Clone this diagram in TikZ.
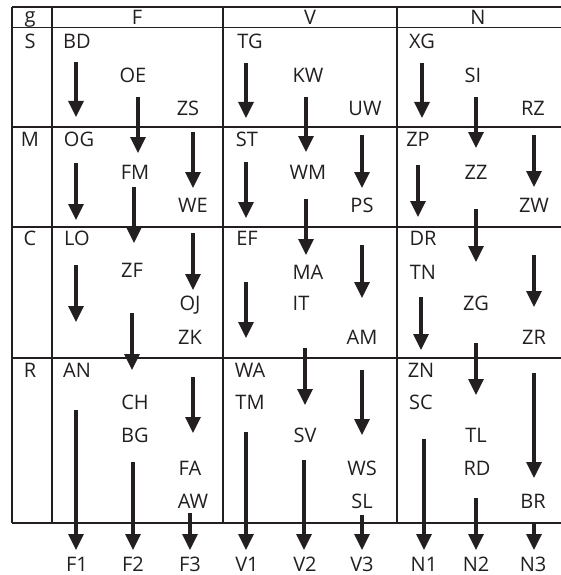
\documentclass[tikz,border=0pt]{standalone}
\usepackage{fontspec}
\setmainfont{Open Sans}
\usetikzlibrary{arrows.meta}
\definecolor{ink}{HTML}{231F20}
\newcommand\arrw[4]{\coordinate (#1s) at (#2,#3); \coordinate (#1e) at (#2,#4); \draw[arr] (#1s) -- (#1e);}
\newcommand\lab[4]{\node[lbl] (#1) at (#2,#3) {#4};}
\begin{document}
\begin{tikzpicture}[x=1pt,y=-1pt,
  lbl/.style={inner sep=0pt,text height=14.3pt,text depth=0pt,anchor=center,text=ink,font=\fontsize{20}{22}\selectfont},
  arr/.style={draw=ink,line width=3.3pt,-{Triangle[width=15pt,length=16pt]}},
  grid/.style={draw=ink,line width=1.2pt}]
\useasboundingbox (0,0) rectangle (561,575);
% grid
\foreach \x in {12,52,223,397} \draw[grid] (\x,7) -- (\x,523);
\foreach \y in {7,27.3,127,227,358,523} \draw[grid] (12,\y) -- (561,\y);
% header
\node[inner sep=0pt,anchor=base,text=ink,font=\fontsize{20}{22}\selectfont] (g) at (30,22.3) {g};
\lab{hF}{137}{17.5}{F}
\lab{hV}{310}{17.5}{V}
\lab{hN}{478}{17.5}{N}
\lab{rS}{30}{41.5}{S}
\lab{rM}{30}{139}{M}
\lab{rC}{30}{238}{C}
\lab{rR}{30}{370}{R}
% F column
\lab{BD}{77}{41.5}{BD}
\lab{OE}{133}{75}{OE}
\lab{ZS}{188}{108}{ZS}
\lab{OG}{79}{139}{OG}
\lab{FM}{135}{172}{FM}
\lab{WE}{193}{205}{WE}
\lab{LO}{77}{238}{LO}
\lab{ZF}{132}{270}{ZF}
\lab{OJ}{190}{303}{OJ}
\lab{ZK}{190}{337}{ZK}
\lab{AN}{77}{370}{AN}
\lab{CH}{135}{402}{CH}
\lab{BG}{135}{435}{BG}
\lab{FA}{190}{468}{FA}
\lab{AW}{193}{501}{AW}
\lab{F1}{77}{564.5}{F1}
\lab{F2}{133}{564.5}{F2}
\lab{F3}{190}{564.5}{F3}
% V column
\lab{TG}{250}{41.5}{TG}
\lab{KW}{308}{75}{KW}
\lab{UW}{365}{108}{UW}
\lab{ST}{247}{139}{ST}
\lab{WM}{308}{172}{WM}
\lab{PS}{362}{205}{PS}
\lab{EF}{247}{238}{EF}
\lab{MA}{308}{272}{MA}
\lab{IT}{301}{303}{IT}
\lab{AM}{362}{337}{AM}
\lab{WA}{250}{370}{WA}
\lab{TM}{250}{402}{TM}
\lab{SV}{305}{435}{SV}
\lab{WS}{362}{468}{WS}
\lab{SL}{362}{501}{SL}
\lab{V1}{247}{564.5}{V1}
\lab{V2}{305}{564.5}{V2}
\lab{V3}{362}{564.5}{V3}
% N column
\lab{XG}{422}{41.5}{XG}
\lab{SI}{473}{75}{SI}
\lab{RZ}{533}{108}{RZ}
\lab{ZP}{418}{139}{ZP}
\lab{ZZ}{476}{172}{ZZ}
\lab{ZW}{534}{205}{ZW}
\lab{DR}{423}{238}{DR}
\lab{TN}{423}{272}{TN}
\lab{ZG}{476}{303}{ZG}
\lab{ZR}{534}{337}{ZR}
\lab{ZN}{421}{370}{ZN}
\lab{SC}{421}{402}{SC}
\lab{TL}{476}{435}{TL}
\lab{RD}{477}{468}{RD}
\lab{BR}{533}{501}{BR}
\lab{N1}{424}{564.5}{N1}
\lab{N2}{476}{564.5}{N2}
\lab{N3}{533}{564.5}{N3}
% arrows F
\arrw{a1}{76}{62}{117}
\arrw{a2}{138}{97}{153}
\arrw{a3}{76}{163}{220}
\arrw{a4}{193}{132}{188}
\arrw{a5}{134}{187}{243}
\arrw{a6}{76}{265}{322}
\arrw{a7}{193}{233}{290}
\arrw{a8}{132}{313}{370}
\arrw{a9}{76}{410}{550}
\arrw{a10}{133}{462}{550}
\arrw{a11}{193}{377}{433}
\arrw{a12}{190}{513}{550}
% arrows V
\arrw{b1}{246}{63}{118}
\arrw{b2}{306}{97}{152}
\arrw{b3}{246}{162}{218}
\arrw{b4}{362}{135}{188}
\arrw{b5}{306}{199}{255}
\arrw{b6}{246}{282}{338}
\arrw{b7}{362}{245}{298}
\arrw{b8}{305}{348}{405}
\arrw{b9}{246}{432}{550}
\arrw{b10}{304}{460}{550}
\arrw{b11}{362}{370}{435}
\arrw{b12}{362}{515}{550}
% arrows N
\arrw{c1}{422}{63}{118}
\arrw{c2}{476}{97}{148}
\arrw{c3}{418}{165}{217}
\arrw{c4}{534}{135}{187}
\arrw{c5}{476}{209}{262}
\arrw{c6}{421}{297}{350}
\arrw{c7}{534}{255}{307}
\arrw{c8}{476}{343}{395}
\arrw{c9}{424}{439}{550}
\arrw{c10}{476}{498}{550}
\arrw{c11}{534}{373}{478}
\arrw{c12}{534}{523}{550}
\end{tikzpicture}
\end{document}
